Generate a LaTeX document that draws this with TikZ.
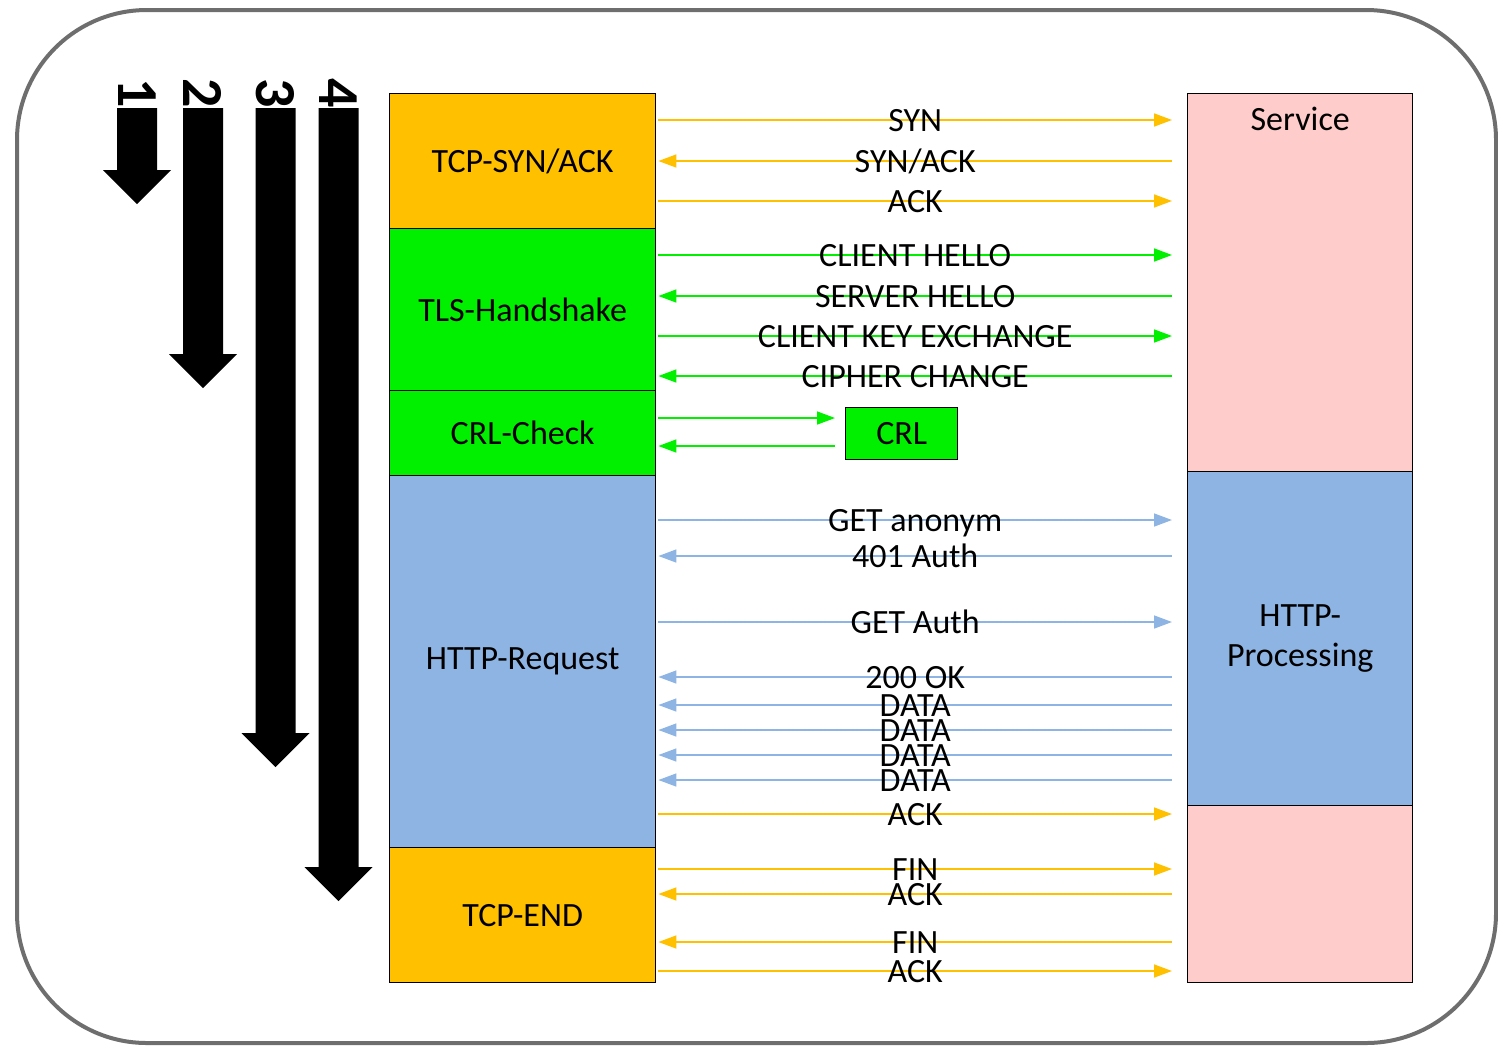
\documentclass[tikz,border=0pt]{standalone}
\usepackage{fontspec}
\setmainfont{Carlito}
\usepackage{tikz}
\usetikzlibrary{positioning,arrows.meta,calc}
\definecolor{tcporange}{HTML}{FFC000}
\definecolor{tlsgreen}{HTML}{00F000}
\definecolor{httpblue}{HTML}{8EB4E3}
\definecolor{srvpink}{HTML}{FFCCCC}
\definecolor{framegray}{HTML}{6E6E6E}

\begin{document}
\begin{tikzpicture}[
x=0.5pt,y=-0.5pt,
phase/.style={rectangle,draw,line width=0.7pt,inner sep=0pt,anchor=north west,
  minimum width=133pt,font=\fontsize{17}{20}\selectfont},
lbl/.style={font=\fontsize{17}{20}\selectfont,inner sep=0pt,anchor=base,yshift=-5.5pt},
msg/.style={line width=0.8pt},
tor/.style={-{Triangle[length=9pt,width=6.5pt]}},
tol/.style={{Triangle[length=9pt,width=6.5pt]}-},
num/.style={font=\fontsize{29}{30}\selectfont\bfseries,inner sep=0pt,rotate=-90}
]
\useasboundingbox (0,0) rectangle (1498,1045);
\draw[framegray,line width=2pt,rounded corners=65pt] (17,10) rectangle (1496,1043);

% client side
\node[phase,fill=tcporange,minimum height=67.5pt] (tcpsyn) at (389,93) {TCP-SYN/ACK};
\node[phase,fill=tlsgreen,minimum height=81pt] (tls) at (389,228) {TLS-Handshake};
\node[phase,fill=tlsgreen,minimum height=42.5pt] (crlchk) at (389,390) {CRL-Check};
\node[phase,fill=httpblue,minimum height=186pt] (http) at (389,475) {HTTP-Request};
\node[phase,fill=tcporange,minimum height=67.5pt] (tcpend) at (389,847) {TCP-END};

% server side
\node[phase,fill=srvpink,minimum width=112.5pt,minimum height=189pt] (service) at (1187,93) {};
\node[phase,fill=httpblue,minimum width=112.5pt,minimum height=167pt,align=center] (proc) at (1187,471) {HTTP-\\Processing};
\node[phase,fill=srvpink,minimum width=112.5pt,minimum height=88.5pt] (srvend) at (1187,805) {};
\node[font=\fontsize{17}{20}\selectfont,inner sep=0pt,below=7pt of service.north] {Service};

\node[phase,fill=tlsgreen,minimum width=56pt,minimum height=26pt] (crl) at (845,407) {CRL};

\coordinate (lft) at ([xshift=1pt]tcpsyn.east);
\coordinate (rgt) at ([xshift=-7.5pt]service.west);
\coordinate (crlin) at ([xshift=-5pt]crl.west);

% messages
\foreach \y/\txt/\col in {120/SYN/tcporange,201/ACK/tcporange,255/CLIENT HELLO/tlsgreen,
  336/CLIENT KEY EXCHANGE/tlsgreen,520/GET anonym/httpblue,622/GET Auth/httpblue,
  814/ACK/tcporange,869/FIN/tcporange,971/ACK/tcporange}
  \draw[msg,tor,draw=\col] (lft |- 0,\y) -- node[lbl] {\txt} (rgt |- 0,\y);
\foreach \y/\txt/\col in {161/{SYN/ACK}/tcporange,296/SERVER HELLO/tlsgreen,
  376/CIPHER CHANGE/tlsgreen,556/401 Auth/httpblue,677/200 OK/httpblue,
  705/DATA/httpblue,730/DATA/httpblue,755/DATA/httpblue,780/DATA/httpblue,
  894/ACK/tcporange,942/FIN/tcporange}
  \draw[msg,tol,draw=\col] (lft |- 0,\y) -- node[lbl] {\txt} (rgt |- 0,\y);

\draw[msg,tor,draw=tlsgreen] (lft |- 0,418) -- (crlin |- 0,418);
\draw[msg,tol,draw=tlsgreen] (lft |- 0,446) -- (crlin |- 0,446);

% step arrows
\foreach \n/\cx/\tip in {1/137/204,2/203/388,3/275.5/767,4/338.5/901}{
  \fill (\cx-20,108) -- (\cx+20,108) -- (\cx+20,\tip-34) -- (\cx+34,\tip-34)
    -- (\cx,\tip) -- (\cx-34,\tip-34) -- (\cx-20,\tip-34) -- cycle;
  \node[num] (n\n) at (\cx,93) {\n};
}
\end{tikzpicture}
\end{document}
